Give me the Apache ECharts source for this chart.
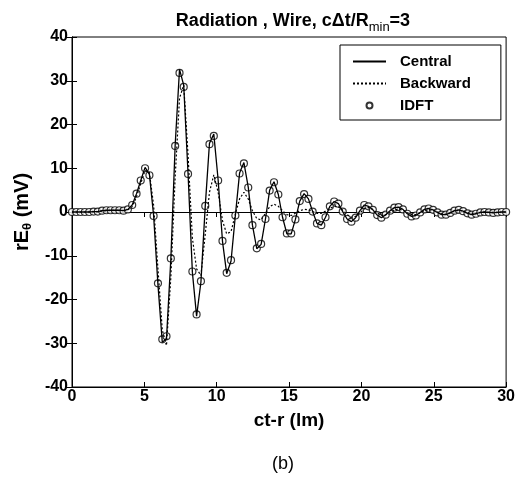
<!DOCTYPE html>
<html>
<head>
<meta charset="utf-8">
<script src="https://cdn.jsdelivr.net/npm/echarts@6/dist/echarts.min.js"></script>
<style>
html, body { margin: 0; padding: 0; background: #fff; }
#chart { width: 518px; height: 482px; }
</style>
</head>
<body>
<div id="chart"></div>
<script>
// sample positions (ct-r, lm)
var xs = [0, 0.30, 0.59, 0.89, 1.19, 1.49, 1.78, 2.08, 2.38, 2.67, 2.97, 3.27, 3.56, 3.86, 4.16, 4.46, 4.75, 5.05, 5.35, 5.64,
  5.94, 6.24, 6.53, 6.83, 7.13, 7.43, 7.72, 8.02, 8.32, 8.61, 8.91, 9.21, 9.50, 9.80, 10.10, 10.40, 10.69, 10.99, 11.29, 11.58,
  11.88, 12.18, 12.47, 12.77, 13.07, 13.37, 13.66, 13.96, 14.26, 14.55, 14.85, 15.15, 15.44, 15.74, 16.04, 16.34, 16.63, 16.93, 17.23, 17.52,
  17.82, 18.12, 18.41, 18.71, 19.01, 19.31, 19.60, 19.90, 20.20, 20.49, 20.79, 21.09, 21.38, 21.68, 21.98, 22.28, 22.57, 22.87, 23.17, 23.47,
  23.76, 24.06, 24.36, 24.65, 24.95, 25.25, 25.54, 25.84, 26.14, 26.43, 26.73, 27.03, 27.33, 27.62, 27.92, 28.22, 28.51, 28.81, 29.11, 29.41,
  29.70, 30.0];

// rE_theta (mV), IDFT markers
var idftY = [0.0, 0.0, 0.0, 0.0, 0.0, 0.1, 0.1, 0.3, 0.4, 0.4, 0.4, 0.4, 0.3, 0.6, 1.6, 4.2, 7.2, 10.0, 8.4, -0.9,
  -16.3, -29.1, -28.4, -10.6, 15.1, 31.8, 28.6, 8.7, -13.6, -23.4, -15.8, 1.4, 15.5, 17.4, 7.2, -6.6, -13.9, -11.0, -0.8, 8.8,
  11.1, 5.6, -3.0, -8.3, -7.3, -1.6, 4.9, 6.8, 4.0, -1.2, -4.9, -4.9, -1.7, 2.5, 4.1, 3.0, 0.1, -2.6, -3.0, -1.2,
  1.3, 2.4, 1.9, 0.1, -1.6, -2.2, -1.3, 0.3, 1.6, 1.3, 0.5, -0.7, -1.3, -0.6, 0.3, 1.0, 1.1, 0.6, -0.4, -1.0,
  -0.8, -0.1, 0.6, 0.8, 0.5, -0.1, -0.6, -0.6, -0.2, 0.3, 0.5, 0.2, -0.3, -0.6, -0.4, -0.1, 0.0, -0.1, -0.2, -0.1,
  0.0, 0.0];

// central difference
var centralY = [0.0, 0.0, 0.0, 0.0, 0.0, 0.1, 0.1, 0.3, 0.4, 0.4, 0.4, 0.4, 0.3, 0.6, 1.6, 4.2, 7.2, 10.2, 8.6, -0.8,
  -16.6, -29.8, -28.9, -10.8, 15.3, 32.6, 29.0, 8.8, -13.8, -23.8, -16.0, 1.4, 15.7, 17.8, 7.3, -6.7, -14.1, -11.2, -0.8, 8.9,
  11.3, 5.7, -3.0, -8.4, -7.4, -1.6, 5.0, 6.9, 4.0, -1.2, -5.0, -5.0, -1.7, 2.5, 4.2, 3.0, 0.1, -2.6, -3.0, -1.2,
  1.3, 2.4, 1.9, 0.1, -1.6, -2.2, -1.3, 0.3, 1.6, 1.3, 0.5, -0.7, -1.3, -0.6, 0.3, 1.0, 1.1, 0.6, -0.4, -1.0,
  -0.8, -0.1, 0.6, 0.8, 0.5, -0.1, -0.6, -0.6, -0.2, 0.3, 0.5, 0.2, -0.3, -0.6, -0.4, -0.1, 0.0, -0.1, -0.2, -0.1,
  0.0, 0.0];

// backward difference
var backwardY = [0.0, 0.0, 0.0, 0.0, 0.0, 0.1, 0.1, 0.2, 0.3, 0.4, 0.4, 0.4, 0.3, 0.5, 1.2, 3.5, 6.5, 9.5, 9.0, 1.5,
  -13.0, -27.0, -30.5, -15.0, 8.0, 26.0, 29.0, 13.0, -6.0, -13.0, -14.5, -5.0, 4.5, 8.5, 4.5, -2.0, -5.0, -4.5, -0.5, 3.0,
  4.5, 3.0, 0.3, -1.5, -1.8, -0.3, 1.2, 1.8, 1.3, 0.3, -0.6, -0.8, -0.3, 0.3, 0.6, 0.5, 0.1, -0.3, -0.3, 0.2,
  0.8, 1.3, 1.2, 0.4, -0.6, -1.2, -1.0, -0.2, 0.7, 1.0, 0.6, -0.2, -0.8, -0.7, -0.1, 0.5, 0.7, 0.4, -0.2, -0.6,
  -0.6, -0.2, 0.3, 0.5, 0.4, 0.0, -0.4, -0.5, -0.2, 0.2, 0.4, 0.2, -0.2, -0.4, -0.3, -0.1, 0.0, -0.1, -0.1, -0.1,
  0.0, 0.0];

var legendNames = ['Central', 'Backward', 'IDFT'];

function pairs(ys) {
  return xs.map(function (x, i) { return [x, ys[i]]; });
}

var chart = echarts.init(document.getElementById('chart'));
var labelFont = { color: '#000', fontFamily: 'Liberation Sans', fontWeight: 'bold', fontSize: 16 };
var hidden = { show: false };
var noSymbol = { opacity: 0 };

var option = {
  backgroundColor: '#fff',
  animation: false,
  title: [{
    text: 'Radiation , Wire, c\u0394t/R{sub|min}=3',
    left: 288, top: 4, textAlign: 'center',
    textStyle: {
      color: '#000', fontFamily: 'Liberation Sans', fontWeight: 'bold', fontSize: 18,
      rich: { sub: { fontSize: 13, fontWeight: 'normal', fontFamily: 'Liberation Sans', color: '#000', padding: [12, 0, 0, 0] } }
    }
  }, {
    text: '(b)',
    left: 278, top: 450, textAlign: 'center',
    textStyle: { color: '#000', fontFamily: 'Liberation Sans', fontWeight: 'normal', fontSize: 18 }
  }],
  grid: { left: 72, right: 10, top: 37, bottom: 95, show: true, borderColor: '#000', borderWidth: 1 },
  legend: {
    orient: 'vertical',
    left: 340, top: 45,
    padding: [9, 30, 7, 12],
    itemGap: 7,
    itemWidth: 33, itemHeight: 6,
    backgroundColor: '#fff',
    borderColor: '#000', borderWidth: 1,
    borderRadius: 0,
    textStyle: { color: '#000', fontFamily: 'Liberation Sans', fontWeight: 'bold', fontSize: 15, padding: [0, 0, 0, 9] },
    data: [
      { name: legendNames[0], itemStyle: noSymbol },
      { name: legendNames[1], itemStyle: noSymbol },
      { name: legendNames[2] }
    ]
  },
  xAxis: [{
    type: 'value', min: 0, max: 30, interval: 5,
    name: 'ct-r (lm)', nameLocation: 'middle', nameGap: 24,
    nameTextStyle: { color: '#000', fontFamily: 'Liberation Sans', fontWeight: 'bold', fontSize: 19 },
    axisLine: { onZero: false, lineStyle: { color: '#000' } },
    axisTick: { inside: true, length: 5, lineStyle: { color: '#000' } },
    axisLabel: Object.assign({ margin: 2 }, labelFont),
    splitLine: hidden
  }, {
    type: 'value', min: 0, max: 30, interval: 5, position: 'top',
    axisLine: { lineStyle: { color: '#000' } },
    axisTick: { inside: true, length: 5, lineStyle: { color: '#000' } },
    axisLabel: hidden, splitLine: hidden
  }],
  yAxis: [{
    type: 'value', min: -40, max: 40, interval: 10,
    name: 'rE{sub|\u03b8} (mV)', nameLocation: 'middle', nameGap: 27, nameRotate: 90,
    nameTextStyle: {
      color: '#000', fontFamily: 'Liberation Sans', fontWeight: 'bold', fontSize: 20,
      rich: { sub: { fontSize: 13, fontWeight: 'bold', fontFamily: 'Liberation Sans', color: '#000', padding: [10, 0, 0, 0] } }
    },
    axisLine: { onZero: false, lineStyle: { color: '#000' } },
    axisTick: { inside: true, length: 5, lineStyle: { color: '#000' } },
    axisLabel: Object.assign({ margin: 4 }, labelFont),
    splitLine: hidden
  }, {
    type: 'value', min: -40, max: 40, interval: 10, position: 'right',
    axisLine: { show: true, lineStyle: { color: '#000' } },
    axisTick: { show: true, inside: true, length: 5, lineStyle: { color: '#000' } },
    axisLabel: hidden, splitLine: hidden
  }],
  series: [{
    name: legendNames[0], type: 'line', data: pairs(centralY),
    symbol: 'none', lineStyle: { color: '#000', width: 1.3 }, itemStyle: { color: '#000' }
  }, {
    name: legendNames[1], type: 'line', data: pairs(backwardY),
    symbol: 'none', lineStyle: { color: '#000', width: 1.2, type: [2, 2] }, itemStyle: { color: '#000' }
  }, {
    name: legendNames[2], type: 'scatter', data: pairs(idftY),
    symbol: 'circle', symbolSize: 7,
    itemStyle: { color: '#fff', borderColor: '#000', borderWidth: 1.2 }
  }]
};
chart.setOption(option);
</script>
</body>
</html>
